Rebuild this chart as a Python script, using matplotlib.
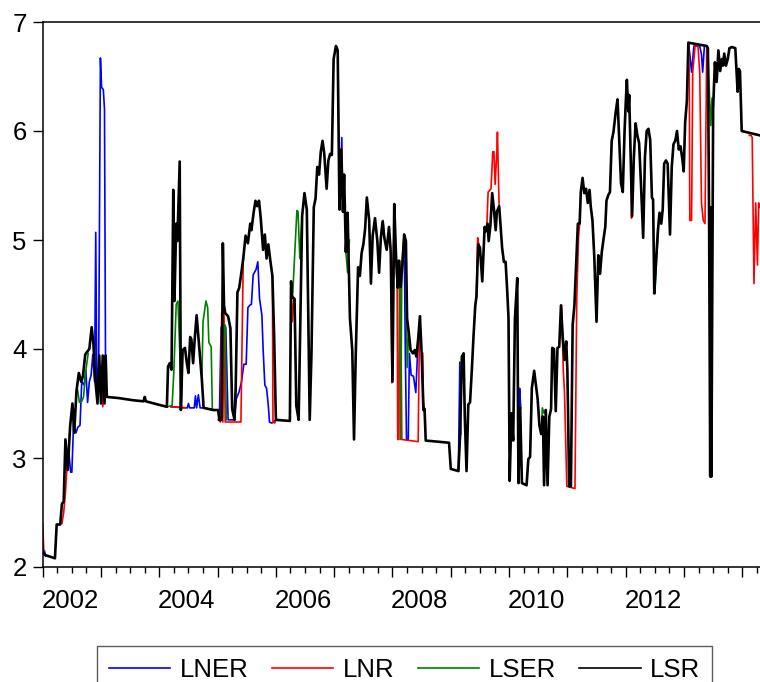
import numpy as np
import matplotlib
matplotlib.use("Agg")
from matplotlib import pyplot as plt

nan = np.nan

# LSR (black), decimal years
lsr_t = [2002.00, 2002.04, 2002.21, 2002.24, 2002.30, 2002.33, 2002.36, 2002.39, 2002.43, 2002.47,
         2002.51, 2002.54, 2002.58, 2002.62, 2002.66, 2002.69, 2002.73, 2002.77, 2002.80, 2002.84,
         2002.87, 2002.90, 2002.94, 2002.97, 2003.00, 2003.03, 2003.06, 2003.08, 2003.10, 2003.30,
         2003.55, 2003.73, 2003.75, 2003.77, 2003.98, 2004.13, 2004.15, 2004.18, 2004.21, 2004.24,
         2004.26, 2004.29, 2004.31, 2004.35, 2004.37, 2004.40, 2004.44, 2004.47, 2004.50, 2004.53,
         2004.55, 2004.58, 2004.61, 2004.64, 2004.67, 2004.70, 2004.73, 2004.76, 2004.93, 2005.01,
         2005.03, 2005.07, 2005.09, 2005.11, 2005.13, 2005.18, 2005.22, 2005.25, 2005.29, 2005.31,
         2005.34, 2005.37, 2005.40, 2005.44, 2005.48, 2005.52, 2005.56, 2005.58, 2005.62, 2005.65,
         2005.68, 2005.71, 2005.74, 2005.78, 2005.81, 2005.84, 2005.87, 2005.90, 2005.94, 2005.97,
         2006.00, 2006.24, 2006.26, 2006.28, 2006.32, 2006.35, 2006.39, 2006.41, 2006.45, 2006.49,
         2006.53, 2006.56, 2006.58, 2006.61, 2006.65, 2006.68, 2006.71, 2006.74, 2006.77, 2006.80,
         2006.83, 2006.87, 2006.90, 2006.93, 2006.96, 2006.99, 2007.03, 2007.06, 2007.09, 2007.12,
         2007.15, 2007.17, 2007.20, 2007.23, 2007.27, 2007.31, 2007.34, 2007.37, 2007.41, 2007.44,
         2007.47, 2007.50, 2007.53, 2007.56, 2007.60, 2007.63, 2007.66, 2007.70, 2007.74, 2007.77,
         2007.80, 2007.83, 2007.86, 2007.90, 2007.94, 2007.97, 2008.00, 2008.03, 2008.06, 2008.09,
         2008.11, 2008.14, 2008.17, 2008.20, 2008.23, 2008.25, 2008.28, 2008.31, 2008.35, 2008.38,
         2008.41, 2008.44, 2008.47, 2008.50, 2008.53, 2008.55, 2008.57, 2008.97, 2009.00, 2009.13,
         2009.16, 2009.19, 2009.22, 2009.24, 2009.27, 2009.30, 2009.33, 2009.36, 2009.39, 2009.42,
         2009.44, 2009.47, 2009.50, 2009.54, 2009.58, 2009.60, 2009.63, 2009.65, 2009.68, 2009.71,
         2009.74, 2009.77, 2009.79, 2009.83, 2009.86, 2009.88, 2009.91, 2009.94, 2009.97, 2009.99,
         2010.01, 2010.04, 2010.07, 2010.10, 2010.14, 2010.16, 2010.19, 2010.22, 2010.30, 2010.33,
         2010.36, 2010.39, 2010.43, 2010.46, 2010.49, 2010.52, 2010.55, 2010.58, 2010.60, 2010.63,
         2010.66, 2010.69, 2010.72, 2010.74, 2010.77, 2010.80, 2010.83, 2010.86, 2010.89, 2010.92,
         2010.95, 2010.98, 2011.00, 2011.03, 2011.06, 2011.09, 2011.12, 2011.15, 2011.18, 2011.21,
         2011.23, 2011.26, 2011.29, 2011.32, 2011.35, 2011.38, 2011.40, 2011.43, 2011.46, 2011.50,
         2011.53, 2011.56, 2011.59, 2011.62, 2011.65, 2011.67, 2011.70, 2011.73, 2011.76, 2011.79,
         2011.83, 2011.86, 2011.89, 2011.92, 2011.95, 2011.98, 2012.00, 2012.02, 2012.045, 2012.06,
         2012.09, 2012.11, 2012.14, 2012.17, 2012.20, 2012.23, 2012.26, 2012.30, 2012.33, 2012.36,
         2012.39, 2012.42, 2012.45, 2012.47, 2012.49, 2012.52, 2012.55, 2012.58, 2012.61, 2012.635,
         2012.66, 2012.69, 2012.72, 2012.76, 2012.79, 2012.82, 2012.85, 2012.88, 2012.91, 2012.94,
         2012.97, 2012.995, 2013.02, 2013.05, 2013.075, 2013.39, 2013.41, 2013.43, 2013.45, 2013.46,
         2013.47, 2013.50, 2013.53, 2013.56, 2013.59, 2013.62, 2013.65, 2013.67, 2013.69, 2013.72,
         2013.75, 2013.78, 2013.82, 2013.88, 2013.90, 2013.92, 2013.94, 2013.96, 2013.99, 2014.30]
lsr_v = [2.14, 2.11, 2.08, 2.39, 2.39, 2.58, 2.60, 3.17, 2.89, 3.29,
         3.50, 3.23, 3.62, 3.78, 3.70, 3.75, 3.95, 3.98, 4.00, 4.20,
         4.05, 3.73, 3.50, 3.94, 3.50, 3.94, 3.50, 3.94, 3.56, 3.55,
         3.53, 3.52, 3.56, 3.52, 3.49, 3.47, 3.84, 3.87, 3.81, 5.46,
         4.44, 5.15, 4.99, 5.72, 3.44, 3.99, 4.01, 3.88, 3.78, 4.11,
         4.09, 3.87, 4.11, 4.31, 4.11, 3.90, 3.72, 3.46, 3.44, 3.44,
         3.35, 3.35, 4.97, 4.40, 4.33, 4.30, 4.19, 3.45, 3.35, 3.64,
         4.52, 4.56, 4.67, 4.83, 5.04, 4.97, 5.15, 5.09, 5.26, 5.36,
         5.31, 5.36, 5.20, 4.91, 5.05, 4.83, 4.96, 4.83, 4.67, 4.11,
         3.35, 3.34, 4.62, 4.48, 4.46, 3.48, 3.35, 3.96, 5.22, 5.43,
         5.28, 4.12, 3.35, 3.96, 5.30, 5.38, 5.67, 5.60, 5.81, 5.91,
         5.79, 5.47, 5.73, 5.79, 5.78, 6.66, 6.78, 6.74, 5.28, 5.83,
         5.26, 5.60, 4.89, 5.25, 4.28, 3.99, 3.17, 3.96, 4.75, 4.67,
         4.88, 4.96, 5.10, 5.39, 5.18, 4.60, 5.04, 5.20, 4.99, 4.70,
         5.02, 5.17, 5.02, 4.91, 5.12, 4.89, 3.70, 5.33, 4.86, 4.56,
         4.81, 4.57, 4.77, 5.05, 4.99, 4.28, 4.15, 3.99, 3.96, 3.99,
         3.93, 4.09, 4.30, 3.96, 3.44, 3.45, 3.16, 3.14, 2.90, 2.88,
         3.22, 3.93, 3.96, 3.38, 2.88, 3.49, 3.51, 3.80, 4.12, 4.40,
         4.48, 4.96, 4.93, 4.62, 5.12, 5.08, 5.15, 4.99, 5.14, 5.43,
         5.28, 5.09, 5.26, 5.31, 5.09, 4.93, 4.80, 4.80, 4.51, 4.28,
         2.79, 3.41, 3.16, 4.28, 4.65, 2.77, 3.46, 2.77, 2.75, 2.99,
         3.01, 3.64, 3.80, 3.67, 3.54, 3.30, 3.22, 3.38, 2.75, 3.44,
         2.75, 3.38, 3.45, 4.01, 4.00, 3.43, 4.01, 4.02, 4.40, 4.11,
         3.90, 4.07, 3.80, 2.74, 2.74, 4.22, 4.40, 4.77, 5.15, 5.15,
         5.44, 5.57, 5.43, 5.47, 5.34, 5.46, 5.31, 5.18, 4.86, 4.25,
         4.86, 4.69, 4.89, 5.01, 5.12, 5.36, 5.41, 5.44, 5.91, 5.99,
         6.18, 6.29, 5.91, 5.52, 5.44, 5.99, 6.25, 6.47, 6.18, 6.33,
         5.67, 5.22, 5.76, 6.07, 5.96, 5.89, 5.54, 5.02, 5.76, 6.00,
         6.02, 5.92, 5.39, 5.37, 4.51, 4.80, 5.07, 5.25, 5.15, 5.28,
         5.70, 5.73, 5.70, 5.05, 5.67, 5.88, 5.91, 6.00, 5.83, 5.86,
         5.75, 5.63, 6.08, 6.28, 6.81, 6.78, 6.76, 5.25, 2.83, 5.30,
         2.83, 6.21, 6.63, 6.45, 6.74, 6.55, 6.66, 6.60, 6.71, 6.60,
         6.66, 6.76, 6.77, 6.76, 6.55, 6.36, 6.57, 6.55, 6.00, 5.96]

# LNER (blue) where it shows from under LSR, nan separates pieces
lner_t = [2002.00, 2002.03, 2002.05, nan,
          2002.39, 2002.42, 2002.45, 2002.48, 2002.50, 2002.53, 2002.57, 2002.60, 2002.64, 2002.67,
          2002.71, 2002.74, 2002.77, 2002.80, 2002.83, 2002.86, 2002.89, 2002.91, 2002.93, 2002.96,
          2002.99, 2003.01, 2003.04, 2003.06, 2003.08, nan,
          2004.20, 2004.48, 2004.50, 2004.52, 2004.60, 2004.62, 2004.64, 2004.67, 2004.70, 2004.76,
          2004.93, 2005.01, 2005.03, 2005.06, 2005.10, 2005.14, 2005.18, 2005.29, 2005.32, 2005.37,
          2005.41, 2005.45, 2005.49, 2005.52, 2005.55, 2005.58, 2005.61, 2005.66, 2005.69, 2005.72,
          2005.76, 2005.78, 2005.81, 2005.84, 2005.87, 2005.89, 2005.93, 2006.00, nan,
          2007.10, 2007.13, 2007.15, nan,
          2008.20, 2008.22, 2008.24, 2008.27, 2008.29, 2008.32, 2008.36, 2008.40, 2008.44, nan,
          2009.13, 2009.155, 2009.17, nan,
          2010.17, 2010.18, 2010.20, nan,
          2013.075, 2013.10, 2013.13, 2013.17, 2013.27, 2013.30, 2013.32, 2013.35, 2013.39]
lner_v = [2.12, 2.15, 2.10, nan,
          3.17, 2.97, 3.04, 2.87, 2.87, 3.32, 3.23, 3.28, 3.30, 3.70,
          3.67, 3.80, 3.51, 3.70, 3.76, 3.95, 3.70, 5.07, 3.51, 3.86,
          6.67, 6.40, 6.38, 6.20, 3.56, nan,
          3.47, 3.46, 3.50, 3.46, 3.46, 3.57, 3.46, 3.58, 3.46, 3.46,
          3.44, 3.44, 3.35, 4.20, 4.22, 4.20, 3.35, 3.35, 3.54, 3.61,
          3.70, 3.86, 3.86, 4.38, 4.40, 4.41, 4.68, 4.73, 4.80, 4.46,
          4.31, 4.01, 3.67, 3.64, 3.48, 3.33, 3.32, 3.35, nan,
          5.28, 5.94, 5.26, nan,
          5.05, 3.98, 3.17, 3.17, 3.96, 3.76, 3.75, 3.60, 4.09, nan,
          2.88, 3.88, 3.22, nan,
          2.77, 3.64, 3.46, nan,
          6.81, 6.70, 6.54, 6.78, 6.78, 6.70, 6.54, 6.78, 6.78]

# LNR (red)
lnr_t = [2002.00, 2002.02, nan,
         2002.33, 2002.36, 2002.39, 2002.41, 2002.43, nan,
         2003.02, 2003.03, 2003.05, nan,
         2004.20, 2004.45, nan,
         2005.01, 2005.05, 2005.07, 2005.09, 2005.11, 2005.13, 2005.40, 2005.44, nan,
         2005.94, 2005.95, 2005.98, 2006.00, nan,
         2006.26, 2006.28, 2006.31, nan,
         2007.13, 2007.15, 2007.17, nan,
         2007.97, 2007.99, 2008.02, nan,
         2008.06, 2008.08, 2008.09, 2008.11, 2008.12, 2008.14, 2008.16, 2008.44, 2008.46, 2008.48, nan,
         2008.52, 2008.53, 2008.55, nan,
         2009.44, 2009.46, 2009.48, nan,
         2009.62, 2009.64, 2009.69, 2009.72, 2009.74, 2009.76, 2009.79, 2009.80, 2009.83, nan,
         2010.90, 2010.93, 2010.95, 2010.99, 2011.13, 2011.16, 2011.19, 2011.21, nan,
         2012.09, 2012.10, 2012.12, nan,
         2013.075, 2013.09, 2013.10, 2013.13, 2013.15, 2013.19, 2013.24, 2013.27, 2013.30, 2013.33,
         2013.36, 2013.39, nan,
         2014.12, 2014.15, 2014.17, 2014.20, 2014.23, 2014.26, 2014.28, 2014.30]
lnr_v = [2.40, 2.13, nan,
         2.40, 2.50, 2.68, 2.86, 3.05, nan,
         3.60, 3.47, 3.60, nan,
         3.47, 3.46, nan,
         3.35, 3.33, 4.33, 3.33, 4.33, 3.33, 3.33, 4.83, nan,
         4.67, 3.33, 3.32, 3.35, nan,
         4.62, 4.25, 4.45, nan,
         5.83, 5.26, 5.60, nan,
         4.89, 3.69, 5.00, nan,
         4.86, 4.56, 3.17, 3.17, 4.81, 4.57, 3.17, 3.15, 4.07, 4.30, nan,
         3.96, 3.53, 3.44, nan,
         4.48, 5.02, 4.96, nan,
         5.15, 5.44, 5.47, 5.81, 5.81, 5.51, 5.81, 5.99, 5.28, nan,
         4.40, 3.80, 3.61, 2.74, 2.72, 4.44, 5.02, 5.15, nan,
         5.67, 5.20, 5.50, nan,
         6.81, 6.54, 5.18, 5.18, 6.54, 6.78, 6.78, 6.54, 5.34, 5.18,
         5.15, 6.78, nan,
         5.96, 5.96, 5.94, 4.60, 5.34, 4.77, 5.34, 5.30]

# LSER (green)
lser_t = [2002.60, 2002.63, 2002.67, 2002.70, 2002.74, 2002.78, nan,
          2004.13, 2004.22, 2004.25, 2004.29, 2004.32, 2004.35, 2004.37, nan,
          2004.73, 2004.75, 2004.80, 2004.83, 2004.85, 2004.89, 2004.91, nan,
          2005.07, 2005.10, 2005.13, 2005.15, nan,
          2006.26, 2006.29, 2006.36, 2006.38, 2006.41, 2006.45, nan,
          2007.20, 2007.23, 2007.26, nan,
          2007.80, 2007.84, 2007.86, nan,
          2008.12, 2008.14, 2008.16, 2008.20, 2008.23, 2008.25, 2008.28, nan,
          2010.55, 2010.57, 2010.60, 2010.62, nan,
          2012.50, 2012.53, 2012.56, nan,
          2013.41, 2013.44, 2013.46, 2013.48]
lser_v = [3.62, 3.51, 3.52, 3.56, 3.80, 3.96, nan,
          3.47, 3.48, 3.80, 4.41, 4.44, 4.00, 3.46, nan,
          3.72, 4.25, 4.44, 4.38, 4.06, 4.02, 3.44, nan,
          3.35, 4.22, 4.22, 3.35, nan,
          4.62, 4.52, 5.27, 5.26, 4.83, 5.22, nan,
          4.89, 4.70, 5.00, nan,
          5.02, 5.18, 5.02, nan,
          4.81, 3.17, 4.77, 5.05, 4.99, 3.83, 4.15, nan,
          3.22, 3.46, 3.41, 3.44, nan,
          4.51, 4.83, 5.07, nan,
          6.76, 6.28, 6.05, 6.30]

series_names = ["LNER", "LNR", "LSER", "LSR"]
series_colors = ["#0000ff", "#ff0000", "#008000", "#000000"]

year_ticks = list(range(2002, 2015))
label_years = [2002, 2004, 2006, 2008, 2010, 2012]

plt.rcParams["font.family"] = ["Liberation Sans", "DejaVu Sans"]

fig = plt.figure(figsize=(7.6, 6.82), dpi=100)
ax = fig.add_axes([42.7 / 760, 1 - 567 / 682, (762.7 - 42.7) / 760, (567 - 22) / 682])

ax.plot(lner_t, lner_v, color=series_colors[0], lw=1.2, label=series_names[0])
ax.plot(lnr_t, lnr_v, color=series_colors[1], lw=1.2, label=series_names[1])
ax.plot(lser_t, lser_v, color=series_colors[2], lw=1.2, label=series_names[2])
ax.plot(lsr_t, lsr_v, color=series_colors[3], lw=1.9, label=series_names[3])

ax.set_xlim(2002.0, 2014.35)
ax.set_ylim(2, 7)
ax.set_yticks([2, 3, 4, 5, 6, 7])
ax.tick_params(axis="y", direction="out", length=7.5, width=1, labelsize=18.5, pad=4)

ax.set_xticks(year_ticks)
ax.set_xticklabels([])
ax.set_xticks(np.arange(2002, 2014.5, 0.25), minor=True)
ax.tick_params(axis="x", which="major", direction="out", length=7, width=1)
ax.tick_params(axis="x", which="minor", direction="out", length=4.5, width=1)

sec = ax.secondary_xaxis("bottom")
sec.set_xticks([y + 0.47 for y in label_years], labels=[str(y) for y in label_years])
sec.tick_params(length=0, labelsize=18.5, pad=16)
sec.spines["bottom"].set_visible(False)

for s in ["left", "top", "bottom"]:
    ax.spines[s].set_linewidth(1.1)
ax.spines["right"].set_visible(False)

leg = fig.legend(loc="upper center", bbox_to_anchor=(404.5 / 760, 1 - 646 / 682), ncol=4,
                 fontsize=18.5, frameon=True, fancybox=False, handlelength=2.4,
                 handletextpad=0.37, columnspacing=0.9, borderpad=0.45, borderaxespad=0)
leg.get_frame().set_edgecolor("#333333")
leg.get_frame().set_linewidth(1.0)
for h in leg.get_lines():
    h.set_linewidth(1.2)

plt.savefig("out.png", dpi=100)
